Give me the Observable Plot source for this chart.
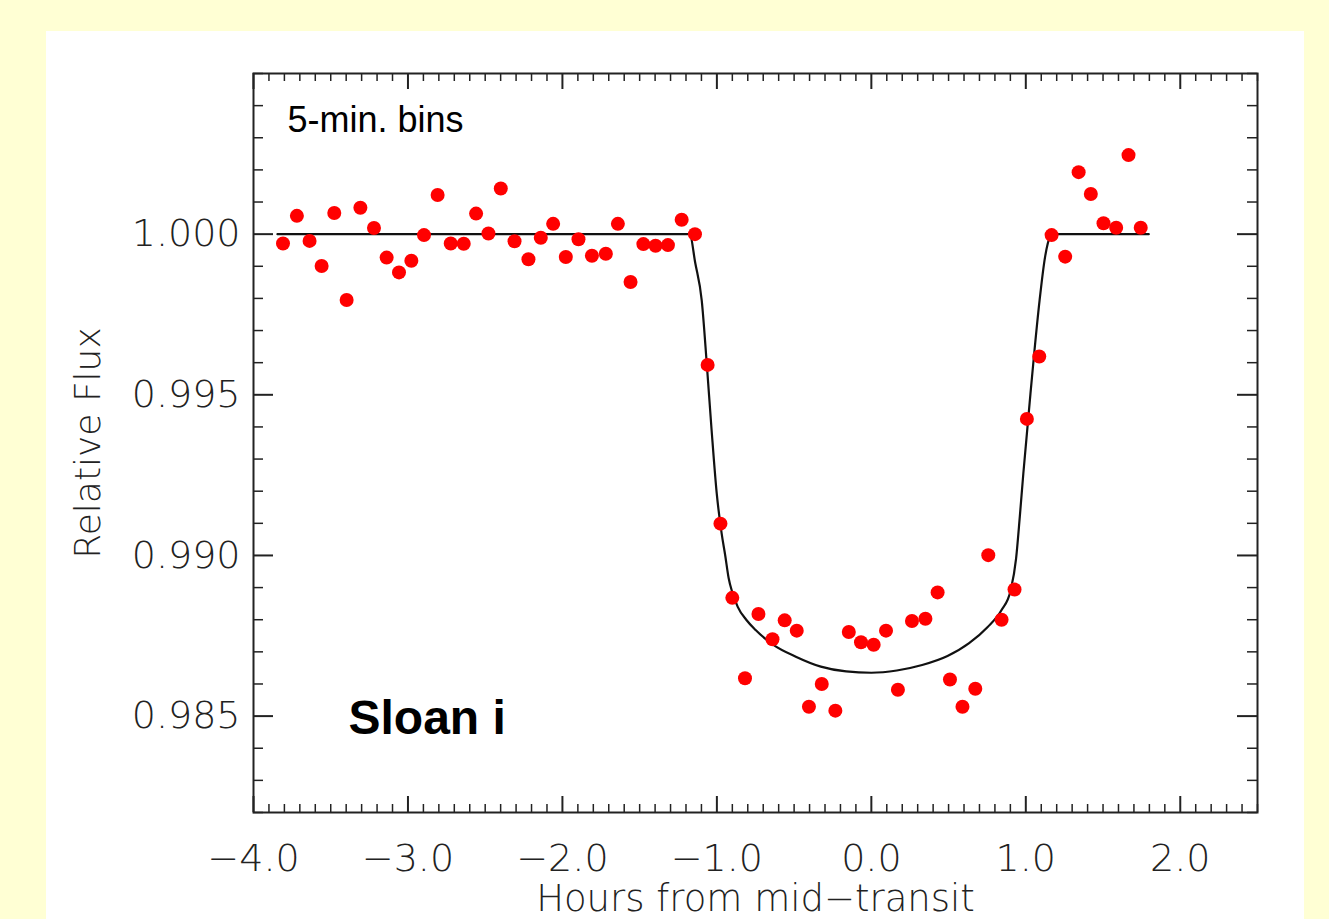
<!DOCTYPE html>
<html>
<head>
<meta charset="utf-8">
<script src="https://cdn.jsdelivr.net/npm/d3@7"></script>
<script src="https://cdn.jsdelivr.net/npm/@observablehq/plot@0.6"></script>
<style>
  html, body { margin: 0; padding: 0; background: #ffffd4; width: 1329px; height: 919px; overflow: hidden; }
  #panel { position: absolute; left: 46px; top: 31px; width: 1258px; height: 888px; background: #ffffff; overflow: hidden; }
  #panel svg { display: block; }
</style>
</head>
<body>
<div id="panel"></div>
<script>
// Binned observations (hours from mid-transit, relative flux)
const hours = [
  -3.809, -3.719, -3.637, -3.559, -3.477, -3.397, -3.308, -3.220, -3.138, -3.058,
  -2.978, -2.896, -2.808, -2.723, -2.639, -2.559, -2.479, -2.399, -2.310, -2.220,
  -2.140, -2.060, -1.978, -1.896, -1.809, -1.719, -1.641, -1.559, -1.476, -1.397,
  -1.317, -1.228, -1.142, -1.060, -0.977, -0.900, -0.818, -0.731, -0.640, -0.561,
  -0.483, -0.404, -0.321, -0.233, -0.146, -0.067, 0.015, 0.095, 0.172, 0.263,
  0.350, 0.429, 0.509, 0.590, 0.673, 0.757, 0.843, 0.927, 1.007, 1.087,
  1.167, 1.255, 1.342, 1.421, 1.503, 1.585, 1.665, 1.744
];
const flux = [
  0.99971, 1.00057, 0.99979, 0.99901, 1.00066, 0.99795, 1.00082, 1.00019, 0.99927, 0.99881,
  0.99917, 0.99997, 1.00122, 0.99971, 0.99970, 1.00064, 1.00002, 1.00142, 0.99978, 0.99922,
  0.99989, 1.00032, 0.99929, 0.99984, 0.99933, 0.99939, 1.00032, 0.99851, 0.99969, 0.99964,
  0.99966, 1.00045, 1.00000, 0.99593, 0.99099, 0.98868, 0.98618, 0.98818, 0.98739, 0.98798,
  0.98766, 0.98529, 0.98600, 0.98517, 0.98762, 0.98730, 0.98722, 0.98766, 0.98582, 0.98796,
  0.98803, 0.98885, 0.98614, 0.98529, 0.98585, 0.99001, 0.98800, 0.98894, 0.99425, 0.99619,
  0.99997, 0.99930, 1.00193, 1.00125, 1.00034, 1.00020, 1.00246, 1.00020
];

// Transit model curve
const modelHours = [
  -3.845, -1.176, -1.140, -1.098, -1.066, -1.034, -1.001, -0.969, -0.946, -0.924,
  -0.900, -0.865, -0.810, -0.749, -0.632, -0.489, -0.327, -0.163, 0.000, 0.165,
  0.329, 0.493, 0.633, 0.750, 0.843, 0.902, 0.937, 0.961, 0.984, 1.007,
  1.030, 1.054, 1.089, 1.124, 1.159, 1.167, 1.796
];
const modelFlux = [
  1.00000, 1.00000, 0.99910, 0.99793, 0.99600, 0.99389, 0.99193, 0.99068, 0.99000, 0.98930,
  0.98885, 0.98840, 0.98800, 0.98768, 0.98721, 0.98685, 0.98654, 0.98639, 0.98635, 0.98642,
  0.98659, 0.98687, 0.98727, 0.98776, 0.98830, 0.98892, 0.98990, 0.99120, 0.99255, 0.99379,
  0.99503, 0.99627, 0.99793, 0.99927, 0.99995, 1.00000, 1.00000
];

// Axes
const xTickValues = [-4, -3, -2, -1, 0, 1, 2];
const xTickLabels = ["\u22124.0", "\u22123.0", "\u22122.0", "\u22121.0", "0.0", "1.0", "2.0"];
const yTickValues = [0.985, 0.990, 0.995, 1.000];
const yTickLabels = ["0.985", "0.990", "0.995", "1.000"];
const xDomain = [-4, 2.5];
const yDomain = [0.982, 1.005];
const xLabel = "Hours from mid\u2212transit";
const yLabel = "Relative Flux";
const noteTop = "5-min. bins";
const noteBand = "Sloan i";

const points = hours.map((h, i) => ({h, f: flux[i]}));
const model = modelHours.map((h, i) => ({h, f: modelFlux[i]}));

const xMinor = d3.range(-40, 26).map(v => v / 10).filter(v => !xTickValues.some(t => Math.abs(t - v) < 1e-9));
const yMinor = d3.range(982, 1006).map(v => v / 1000).filter(v => !yTickValues.some(t => Math.abs(t - v) < 1e-9));

const W = 1258, H = 888;
const mL = 207, mT = 42, mR = 47, mB = 107;
const fw = W - mL - mR, fh = H - mT - mB;

const tickColor = "#222";
const font = "'DejaVu Sans', sans-serif";

const chart = Plot.plot({
  width: W,
  height: H,
  marginLeft: mL,
  marginTop: mT,
  marginRight: mR,
  marginBottom: mB,
  style: {background: "white", fontFamily: font, color: tickColor, overflow: "visible"},
  x: {domain: xDomain},
  y: {domain: yDomain},
  marks: [
    Plot.line(model, {x: "h", y: "f", stroke: "#111", strokeWidth: 2.2, curve: "monotone-x"}),
    Plot.dot(points, {x: "h", y: "f", r: 7, fill: "#ff0000", stroke: "none"}),
    // x ticks bottom & top
    Plot.tickX(xTickValues, {x: d => d, insetTop: fh - 16, stroke: tickColor, strokeWidth: 2}),
    Plot.tickX(xTickValues, {x: d => d, insetBottom: fh - 16, stroke: tickColor, strokeWidth: 2}),
    Plot.tickX(xMinor, {x: d => d, insetTop: fh - 8, stroke: tickColor, strokeWidth: 1.5}),
    Plot.tickX(xMinor, {x: d => d, insetBottom: fh - 8, stroke: tickColor, strokeWidth: 1.5}),
    // y ticks left & right
    Plot.tickY(yTickValues, {y: d => d, insetRight: fw - 20, stroke: tickColor, strokeWidth: 2}),
    Plot.tickY(yTickValues, {y: d => d, insetLeft: fw - 20, stroke: tickColor, strokeWidth: 2}),
    Plot.tickY(yMinor, {y: d => d, insetRight: fw - 10, stroke: tickColor, strokeWidth: 1.5}),
    Plot.tickY(yMinor, {y: d => d, insetLeft: fw - 10, stroke: tickColor, strokeWidth: 1.5}),
    Plot.frame({stroke: tickColor, strokeWidth: 2}),
    Plot.axisX(xTickValues, {
      tickSize: 0, tickPadding: 32, fontSize: 38, fontWeight: 300, fill: tickColor,
      tickFormat: (d, i) => xTickLabels[i], label: null
    }),
    Plot.axisY(yTickValues, {
      tickSize: 0, tickPadding: 13, fontSize: 38, fontWeight: 300, fill: tickColor,
      tickFormat: (d, i) => yTickLabels[i], label: null
    }),
    Plot.text([xLabel], {
      frameAnchor: "bottom", text: d => d, textAnchor: "middle", lineAnchor: "bottom", dy: 98,
      fontSize: 37, fontWeight: 300, fill: tickColor
    }),
    Plot.text([yLabel], {
      frameAnchor: "left", text: d => d, textAnchor: "middle", lineAnchor: "bottom", rotate: -90, dx: -154,
      fontSize: 36, fontWeight: 300, fill: tickColor
    }),
    Plot.text([noteTop], {
      frameAnchor: "top-left", text: d => d, textAnchor: "start", lineAnchor: "bottom",
      dx: 34, dy: 58, fontSize: 36, fontFamily: "'Liberation Sans', Arial, sans-serif", fill: "#000"
    }),
    Plot.text([noteBand], {
      frameAnchor: "bottom-left", text: d => d, textAnchor: "start", lineAnchor: "bottom",
      dx: 95, dy: -79, fontSize: 48, fontWeight: "bold", fontFamily: "'Liberation Sans', Arial, sans-serif", fill: "#000"
    })
  ]
});

document.getElementById("panel").appendChild(chart);
</script>
</body>
</html>
